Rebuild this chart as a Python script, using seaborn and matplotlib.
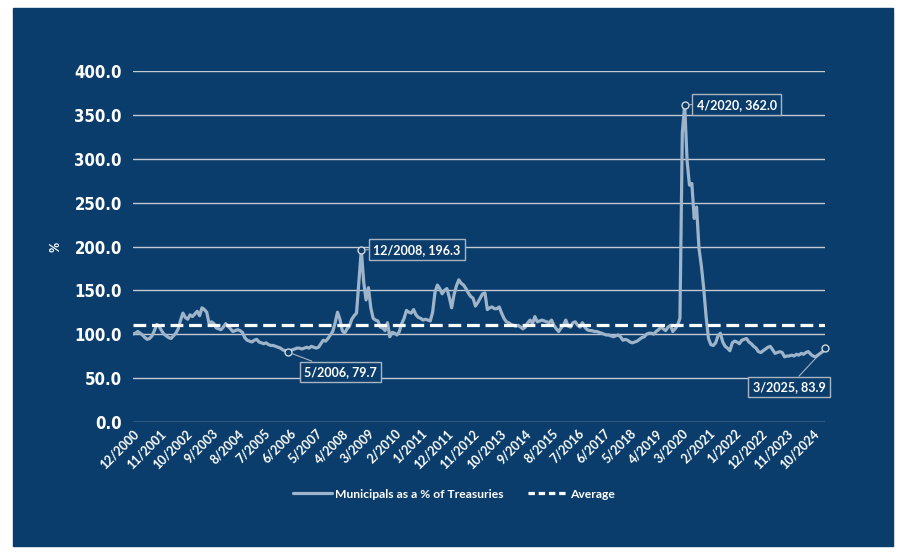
import numpy as np
import pandas as pd
import matplotlib
matplotlib.use("Agg")
import matplotlib.pyplot as plt
import seaborn as sns
from matplotlib.patches import Rectangle
from matplotlib.lines import Line2D
from matplotlib import font_manager

# municipals as a % of treasuries, monthly from 12/2000 to 3/2025
ratio_2000 = [100]
ratio_2001 = [101, 103, 101, 99, 96, 94, 95, 98, 104, 111, 109, 104]
ratio_2002 = [100, 98, 96, 95, 98, 101, 106, 116, 124, 119, 117, 122]
ratio_2003 = [120, 123, 126, 121, 130, 128, 125, 112, 114, 112, 107, 106]
ratio_2004 = [105, 108, 112, 109, 106, 103, 104, 105, 104, 102, 96, 93]
ratio_2005 = [92, 91, 93, 94, 91, 90, 89, 90, 88, 87, 87, 86]
ratio_2006 = [85, 84, 82, 81, 79.7, 81, 82, 83, 84, 84, 83, 84]
ratio_2007 = [85, 84, 86, 85, 84, 85, 89, 93, 92, 95, 99, 103]
ratio_2008 = [113, 125, 117, 104, 101, 106, 109, 117, 121, 124, 160, 196.3]
ratio_2009 = [160, 139, 153, 130, 118, 116, 115, 108, 107, 104, 113, 97]
ratio_2010 = [102, 101, 99, 103, 112, 118, 127, 125, 124, 128, 122, 119]
ratio_2011 = [118, 116, 117, 116, 115, 125, 148, 156, 152, 146, 150, 152]
ratio_2012 = [142, 130, 145, 155, 162, 158, 156, 152, 147, 143, 141, 132]
ratio_2013 = [136, 141, 146, 147, 128, 130, 131, 129, 129, 131, 124, 118]
ratio_2014 = [114, 113, 111, 110, 109, 110, 108, 106, 108, 113, 116, 112]
ratio_2015 = [120, 114, 115, 116, 115, 114, 113, 116, 110, 106, 103, 107]
ratio_2016 = [110, 116, 109, 108, 113, 114, 110, 108, 113, 108, 105, 104]
ratio_2017 = [104, 103, 103, 102, 101, 100, 99, 99, 98, 97, 98, 99]
ratio_2018 = [97, 93, 94, 93, 91, 90, 91, 92, 94, 96, 97, 100]
ratio_2019 = [101, 101, 100, 103, 105, 108, 106, 104, 108, 110, 103, 106]
ratio_2020 = [110, 118, 330, 362, 298, 270, 272, 232, 245, 198, 178, 152]
ratio_2021 = [120, 95, 88, 87, 90, 98, 101, 91, 86, 84, 81, 90]
ratio_2022 = [92, 91, 89, 93, 94, 95, 91, 89, 86, 84, 80, 79]
ratio_2023 = [81, 83, 85, 86, 82, 78, 79, 80, 79, 74, 75, 75]
ratio_2024 = [76, 75, 77, 76, 78, 77, 79, 80, 77, 75, 74, 76]
ratio_2025 = [78, 80, 83.9]

AVERAGE = 110.5
highlights = ["5/2006", "12/2008", "4/2020", "3/2025"]

ratio = (ratio_2000 + ratio_2001 + ratio_2002 + ratio_2003 + ratio_2004 + ratio_2005
         + ratio_2006 + ratio_2007 + ratio_2008 + ratio_2009 + ratio_2010 + ratio_2011
         + ratio_2012 + ratio_2013 + ratio_2014 + ratio_2015 + ratio_2016 + ratio_2017
         + ratio_2018 + ratio_2019 + ratio_2020 + ratio_2021 + ratio_2022 + ratio_2023
         + ratio_2024 + ratio_2025)
months = pd.period_range("2000-12", periods=len(ratio), freq="M")
df = pd.DataFrame({
    "idx": np.arange(len(ratio)),
    "ratio": ratio,
    "label": [f"{p.month}/{p.year}" for p in months],
})

NAVY = "#0a3d6b"
LINE = "#9db4ca"
GRID = "#c3cad3"
BOX = "#a9b4c1"

sns.set_style("white")
plt.rcParams["font.family"] = ["Lato", "DejaVu Sans"]

# narrow bold face for the value axis, if any is installed
narrow = None
for f in font_manager.fontManager.ttflist:
    if ("Narrow" in f.name or "Condensed" in f.name or "condensed" in str(f.stretch)) \
            and f.weight in (600, 700, 800, "bold") and f.style == "normal":
        narrow = font_manager.FontProperties(fname=f.fname, size=12)
        break
if narrow is None:
    narrow = font_manager.FontProperties(family="Lato", weight="bold", size=12)

fig = plt.figure(figsize=(9, 5.52), dpi=100, facecolor="white")
fig.patches.append(Rectangle((13 / 900, 1 - 546 / 552), 880 / 900, 538 / 552,
                             transform=fig.transFigure, color=NAVY, zorder=-1))
ax = fig.add_axes([133 / 900, 1 - 421.7 / 552, 692 / 900, 350.4 / 552])
ax.set_facecolor(NAVY)

sns.lineplot(data=df, x="idx", y="ratio", ax=ax, color=LINE, lw=2.3, legend=False, zorder=3)
ax.axhline(AVERAGE, color="white", lw=2.3, ls=(0, (4, 1.8)), zorder=4)

ax.set_xlim(0, len(ratio) - 1)
ax.set_ylim(0, 400)
for s in ax.spines.values():
    s.set_visible(False)
ax.yaxis.grid(True, color=GRID, lw=1)
ax.xaxis.grid(False)
ax.set_axisbelow(True)

yt = np.arange(0, 401, 50)
ax.set_yticks(yt)
ax.set_yticklabels([f"{v:.1f}" for v in yt], fontproperties=narrow, color="white")
xt = df["idx"][::11]
ax.set_xticks(xt)
ax.set_xticklabels(df["label"][::11], rotation=45, ha="right", rotation_mode="anchor",
                   fontsize=9, fontweight="bold", color="white")
ax.tick_params(axis="y", length=0, pad=8)
ax.tick_params(axis="x", length=0, pad=4)
ax.set_xlabel("")
ax.set_ylabel("%", color="white", fontsize=9, fontweight="bold")
ax.yaxis.set_label_coords((62 - 133) / 692, (421.7 - 247) / 350.4)

# highlighted points
offsets = {"5/2006": (38, -14.5, "center"), "12/2008": (8.6, 0, "left"),
           "4/2020": (8.6, 0, "left"), "3/2025": (-26, -28, "center")}
for lab in highlights:
    row = df[df["label"] == lab].iloc[0]
    dx, dy, ha = offsets[lab]
    ax.plot(row["idx"], row["ratio"], "o", ms=5, mfc=NAVY, mec="#d0d7df", mew=1,
            clip_on=False, zorder=6)
    ax.annotate(f"{lab}, {row['ratio']:.1f}", xy=(row["idx"], row["ratio"]),
                xytext=(dx, dy), textcoords="offset points", ha=ha, va="center",
                fontsize=9, fontweight="bold", color="white", zorder=7,
                bbox=dict(boxstyle="square,pad=0.35", fc=NAVY, ec=BOX, lw=1),
                arrowprops=dict(arrowstyle="-", color=BOX, lw=0.8, shrinkA=0, shrinkB=3))

handles = [Line2D([], [], color=LINE, lw=2.3),
           Line2D([], [], color="white", lw=2.3, ls=(0, (2, 1.2)))]
fig.legend(handles, ["Municipals as a % of Treasuries", "Average"], loc="center",
           bbox_to_anchor=(454 / 900, 1 - 494 / 552), ncol=2, frameon=False,
           handlelength=3.2, columnspacing=2.0, handletextpad=0.3,
           prop={"weight": "bold", "size": 8.7}, labelcolor="white")

fig.savefig("out.png", dpi=100, facecolor="white")
